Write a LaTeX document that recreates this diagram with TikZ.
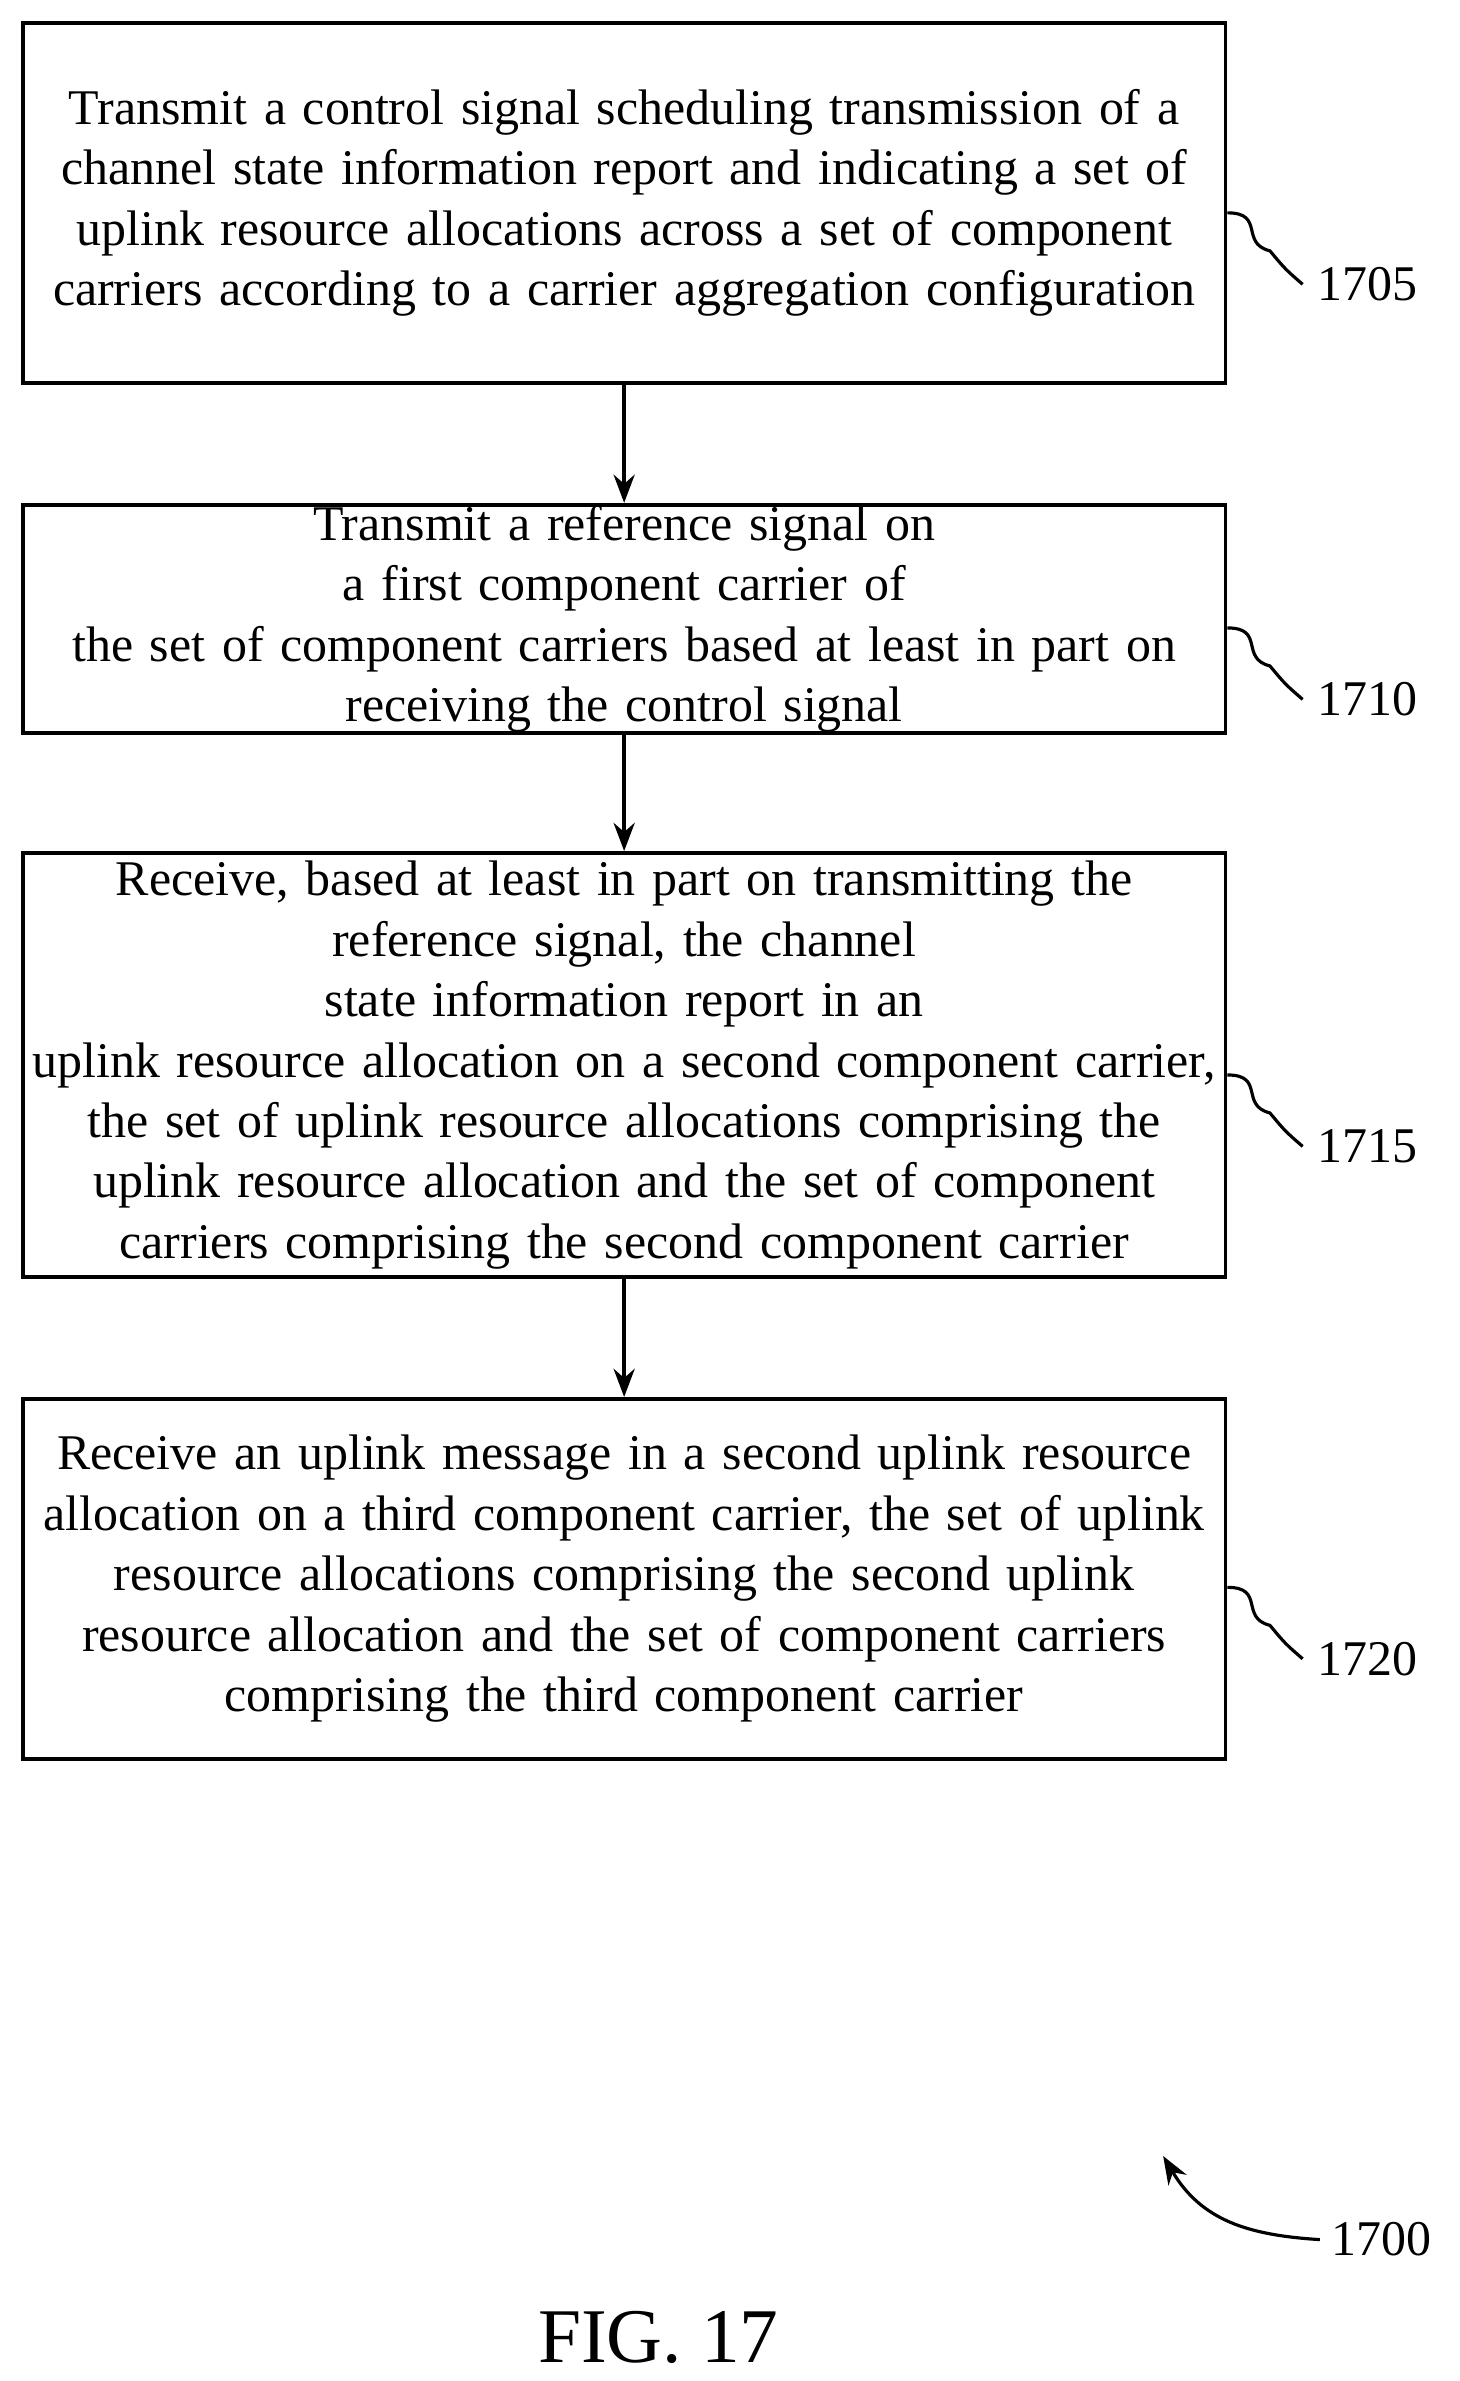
\documentclass[tikz,border=0pt]{standalone}
\usepackage{fontspec}
\setmainfont{Liberation Serif}
\usetikzlibrary{arrows.meta}
\usetikzlibrary{positioning}
\tikzstyle{block} = [rectangle, draw, line width=1.1pt, align=center, font=\fontsize{14.2}{17.2}\selectfont, minimum width=12.02cm, text width=11.9cm, inner sep=0pt]
\tikzstyle{line} = [draw, line width=1.1pt, -{Stealth[length=8pt,width=6pt]}]
\tikzstyle{tag} = [font=\fontsize{14.2}{17}\selectfont, anchor=west, inner sep=0pt]
\tikzstyle{wave} = [draw, line width=0.9pt]

\begin{document}
\begin{tikzpicture}[x=0.0152cm, y=-0.0152cm]
  \useasboundingbox (0,0) rectangle (960,1566);
  % Place nodes
  \node [block, minimum height=3.6cm] (s1705) at (410.5,133.5) {Transmit a control signal scheduling transmission of a\\channel state information report and indicating a set of\\uplink resource allocations across a set of component\\carriers according to a carrier aggregation configuration};
  \node [block, minimum height=2.28cm] (s1710) at (410.5,407) {Transmit a reference signal on a first component carrier of\\the set of component carriers based at least in part on\\receiving the control signal};
  \node [block, minimum height=4.24cm] (s1715) at (410.5,700.5) {Receive, based at least in part on transmitting the\\reference signal, the channel state information report in an\\uplink resource allocation on a second component carrier,\\the set of uplink resource allocations comprising the\\uplink resource allocation and the set of component\\carriers comprising the second component carrier};
  \node [block, minimum height=3.6cm] (s1720) at (410.5,1038.5) {Receive an uplink message in a second uplink resource\\allocation on a third component carrier, the set of uplink\\resource allocations comprising the second uplink\\resource allocation and the set of component carriers\\comprising the third component carrier};
  % Reference numerals
  \node [tag] (n1705) at (866,187) {1705};
  \node [tag] (n1710) at (866,460) {1710};
  \node [tag] (n1715) at (866,754) {1715};
  \node [tag] (n1720) at (866,1091) {1720};
  \node [tag] (n1700) at (875,1473) {1700};
  \node [font=\fontsize{22}{24}\selectfont] (fig) at (433,1537) {FIG. 17};
  \coordinate (t1700) at (765,1418);
  % Draw edges
  \path [line] (s1705) -- (s1710);
  \path [line] (s1710) -- (s1715);
  \path [line] (s1715) -- (s1720);
  % Leader lines
  \foreach \stp/\num in {s1705/n1705, s1710/n1710, s1715/n1715, s1720/n1720}
    \path [wave] (\stp.east |- \num.west) ++(0,-47) .. controls +(25,0) and +(-20,-5) .. ++(28,25) .. controls +(10,12) .. ([xshift=-4pt]\num.west);
  \path [wave, -{Stealth[length=8pt,width=6pt]}] ([xshift=-3pt]n1700.west) .. controls (820,1470) and (790,1460) .. (t1700);
\end{tikzpicture}
\end{document}
